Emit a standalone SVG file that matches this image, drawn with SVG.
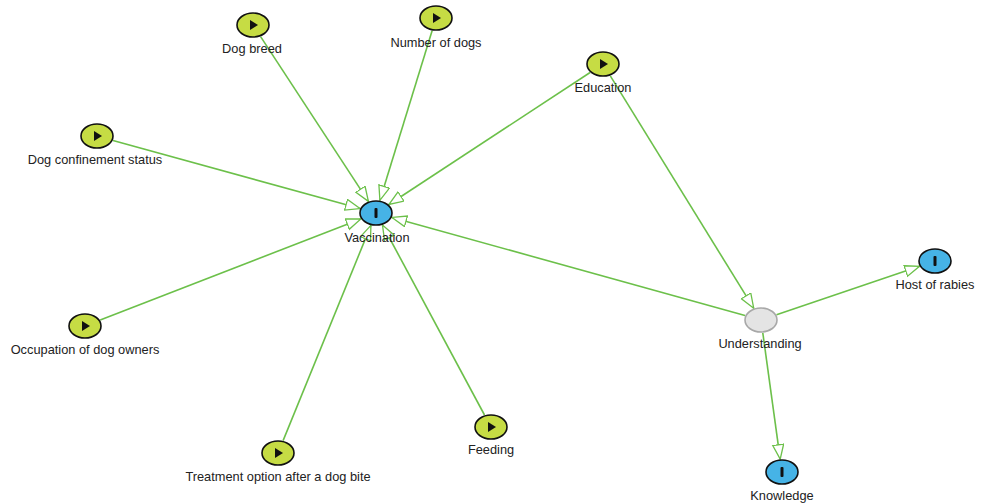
<svg xmlns="http://www.w3.org/2000/svg" width="986" height="504" viewBox="0 0 986 504">
<defs>
<style>
.edge{stroke:#6cc04a;stroke-width:1.6;fill:none;marker-end:url(#arr)}
.lbl{font-family:"Liberation Sans",Arial,sans-serif;font-size:12.8px;fill:#222;text-anchor:middle}
.yel{fill:#c6dc44;stroke:#111;stroke-width:1.6}
.blu{fill:#46b3e6;stroke:#111;stroke-width:1.6}
.gry{fill:#e4e4e4;stroke:#a8a8a8;stroke-width:1.6}
</style>
<marker id="arr" markerUnits="userSpaceOnUse" markerWidth="18" markerHeight="14" refX="15" refY="6" orient="auto">
<path d="M0.5,0.5 L15,6 L0.5,11.5 Z" fill="#fff" stroke="#6cc04a" stroke-width="1.3"/>
</marker>
<symbol id="play" overflow="visible"><path d="M-3,-5 L5,0 L-3,5 Z" fill="#111"/></symbol>
<symbol id="bar" overflow="visible"><rect x="-1.5" y="-5" width="3" height="10" rx="1" fill="#111"/></symbol>
</defs>
<rect width="986" height="504" fill="#fff"/>
<g id="connectors">
<line class="edge" x1="260.6" y1="36.6" x2="368.4" y2="201.4"/>
<line class="edge" x1="432.1" y1="30.7" x2="379.9" y2="200.3"/>
<line class="edge" x1="590.1" y1="72.5" x2="388.9" y2="204.5"/>
<line class="edge" x1="113" y1="140.4" x2="360" y2="208.6"/>
<line class="edge" x1="100.2" y1="320.1" x2="360.8" y2="218.9"/>
<line class="edge" x1="283.1" y1="440.6" x2="370.9" y2="225.4"/>
<line class="edge" x1="484.5" y1="415" x2="382.5" y2="225"/>
<line class="edge" x1="745" y1="315.6" x2="392" y2="217.4"/>
<line class="edge" x1="610.3" y1="75.8" x2="753.7" y2="308.2"/>
<line class="edge" x1="776.5" y1="314.7" x2="919.5" y2="266.3"/>
<line class="edge" x1="762.8" y1="332.9" x2="780.2" y2="459.1"/>
</g>
<g id="dog-breed"><ellipse class="yel" cx="253" cy="25" rx="16" ry="12"/><use href="#play" x="253" y="25"/><text class="lbl" x="252" y="53">Dog breed</text></g>
<g id="number-of-dogs"><ellipse class="yel" cx="436" cy="18" rx="16" ry="12"/><use href="#play" x="436" y="18"/><text class="lbl" x="436" y="47">Number of dogs</text></g>
<g id="education"><ellipse class="yel" cx="603" cy="64" rx="16" ry="12"/><use href="#play" x="603" y="64"/><text class="lbl" x="603" y="92">Education</text></g>
<g id="dog-confinement"><ellipse class="yel" cx="97" cy="136" rx="16" ry="12"/><use href="#play" x="97" y="136"/><text class="lbl" x="95" y="164">Dog confinement status</text></g>
<g id="vaccination"><ellipse class="blu" cx="376" cy="213" rx="16" ry="12"/><use href="#bar" x="376" y="213"/><text class="lbl" x="377" y="242">Vaccination</text></g>
<g id="occupation"><ellipse class="yel" cx="85" cy="326" rx="16" ry="12"/><use href="#play" x="85" y="326"/><text class="lbl" x="85" y="354">Occupation of dog owners</text></g>
<g id="treatment"><ellipse class="yel" cx="278" cy="453" rx="16" ry="12"/><use href="#play" x="278" y="453"/><text class="lbl" x="278" y="481">Treatment option after a dog bite</text></g>
<g id="feeding"><ellipse class="yel" cx="491" cy="427" rx="16" ry="12"/><use href="#play" x="491" y="427"/><text class="lbl" x="491" y="454">Feeding</text></g>
<g id="understanding"><ellipse class="gry" cx="761" cy="320" rx="16" ry="12"/><text class="lbl" x="760" y="348">Understanding</text></g>
<g id="host-of-rabies"><ellipse class="blu" cx="935" cy="261" rx="16" ry="12"/><use href="#bar" x="935" y="261"/><text class="lbl" x="935" y="289">Host of rabies</text></g>
<g id="knowledge"><ellipse class="blu" cx="782" cy="472" rx="16" ry="12"/><use href="#bar" x="782" y="472"/><text class="lbl" x="782" y="500">Knowledge</text></g>
</svg>
